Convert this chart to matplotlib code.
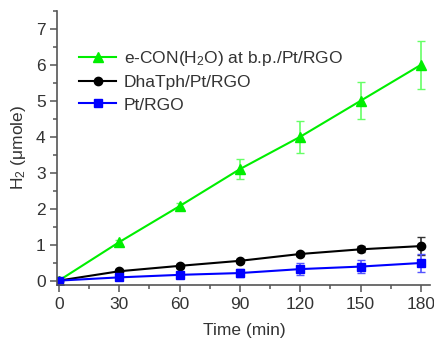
import matplotlib.pyplot as plt
from matplotlib.lines import Line2D
from matplotlib.ticker import MultipleLocator

plt.rcParams['font.family'] = ['Liberation Sans', 'DejaVu Sans']
plt.rcParams['mathtext.fontset'] = 'custom'
plt.rcParams['mathtext.rm'] = 'Liberation Sans'
plt.rcParams['mathtext.it'] = 'Liberation Sans:italic'

time_min = [0, 30, 60, 90, 120, 150, 180]

econ_h2 = [0, 1.07, 2.07, 3.1, 4.0, 5.0, 6.0]
econ_err = [0.03, 0.05, 0.08, 0.28, 0.45, 0.52, 0.66]

dha_h2 = [0, 0.26, 0.41, 0.55, 0.74, 0.87, 0.96]
dha_err = [0.03, 0.05, 0.05, 0.05, 0.06, 0.08, 0.24]

pt_h2 = [0, 0.09, 0.16, 0.21, 0.32, 0.39, 0.49]
pt_err = [0.02, 0.03, 0.05, 0.1, 0.16, 0.17, 0.24]

labels = ['e-CON(H$_2$O) at b.p./Pt/RGO', 'DhaTph/Pt/RGO', 'Pt/RGO']
colors = ['#00ee00', 'black', '#0000ff']
ecolors = ['#66ff66', '#333333', '#5555ff']
markers = ['^', 'o', 's']
msizes = [7, 6, 5.5]

fig = plt.figure(figsize=(4.35, 3.4), dpi=100)
ax = fig.add_axes([0.132, 0.162, 0.857, 0.806])

handles = []
for y, e, c, ec, m, ms in zip([econ_h2, dha_h2, pt_h2], [econ_err, dha_err, pt_err],
                              colors, ecolors, markers, msizes):
    ax.errorbar(time_min, y, yerr=e, color=c, ecolor=ec, marker=m, markersize=ms,
                lw=1.5, capsize=3, elinewidth=1.2)
    handles.append(Line2D([], [], color=c, marker=m, markersize=ms, lw=1.5))

ax.set_xlim(-0.7, 184.6)
ax.set_ylim(-0.12, 7.5)
ax.xaxis.set_major_locator(MultipleLocator(30))
ax.xaxis.set_minor_locator(MultipleLocator(15))
ax.yaxis.set_major_locator(MultipleLocator(1))
ax.yaxis.set_minor_locator(MultipleLocator(0.5))

for s in ['top', 'right']:
    ax.spines[s].set_visible(False)
for s in ['left', 'bottom']:
    ax.spines[s].set_color('#555555')
    ax.spines[s].set_linewidth(1.2)
ax.tick_params(which='major', length=5, width=1.1, color='#555555', labelsize=12.5,
               labelcolor='#333333')
ax.tick_params(which='minor', length=3, width=1.1, color='#555555')

ax.set_xlabel('Time (min)', fontsize=12.5, color='#333333', labelpad=8)
ax.set_ylabel('H$_2$ ($\\mathregular{\\mu}$mole)', fontsize=12.5, color='#333333', labelpad=6)

ax.legend(handles, labels, loc='upper left', bbox_to_anchor=(0.04, 0.885), frameon=False,
          fontsize=12.5, handlelength=2.1, handletextpad=0.45, labelspacing=0.4,
          borderaxespad=0, labelcolor='#333333')

fig.savefig('out.png', dpi=100)
